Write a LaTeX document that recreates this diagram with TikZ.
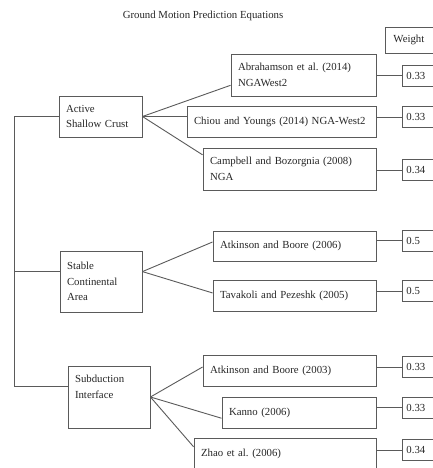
\documentclass[tikz,border=0pt]{standalone}
\usepackage{fontspec}
\setmainfont{Liberation Serif}
\usetikzlibrary{calc}
\definecolor{edge}{HTML}{5A5A5A}
\definecolor{ink}{HTML}{262626}
\frenchspacing

\begin{document}
\begin{tikzpicture}[x=1pt,y=-1pt,
    box/.style={
      draw=edge,
      line width=0.9pt,
      text=ink,
      align=left,
      inner xsep=7pt,
      inner ysep=0pt,
      font=\fontsize{10.8}{15.5}\selectfont
    },
    val/.style={box, anchor=west, inner xsep=4pt, minimum height=21pt, text width=40pt},
    link/.style={draw=edge, line width=0.9pt}]
  \useasboundingbox (0,0) rectangle (433,468);
  \node[text=ink, font=\fontsize{10.8}{13}\selectfont] (title) at (203,16) {Ground Motion Prediction Equations};
  \node[box, anchor=west, minimum height=26pt, inner xsep=8pt, text width=50pt] (weight) at (385,40) {Weight};
  % source types
  \node[box, minimum height=41pt, text width=69pt] (asc) at (100.5,116.5) {Active\\Shallow Crust};
  \node[box, minimum height=61pt, text width=68pt] (sca) at (101,281.5) {Stable\\Continental\\Area};
  \node[box, minimum height=62pt, text width=68pt] (si) at (109,397) {Subduction\\Interface\\\strut};
  % models
  \node[box, minimum height=42pt, text width=131pt] (ab14) at (303.5,75) {Abrahamson et al. (2014)\\NGAWest2};
  \node[box, minimum height=31pt, text width=175pt] (chiou) at (281.5,121.5) {Chiou and Youngs (2014) NGA-West2};
  \node[box, minimum height=42pt, text width=159pt] (camp) at (289.5,169) {Campbell and Bozorgnia (2008)\\NGA};
  \node[box, minimum height=30pt, text width=149pt] (ab06) at (294.5,246) {Atkinson and Boore (2006)};
  \node[box, minimum height=31pt, text width=149pt] (tav) at (294.5,295.5) {Tavakoli and Pezeshk (2005)};
  \node[box, minimum height=31pt, text width=159pt] (ab03) at (289.5,370.5) {Atkinson and Boore (2003)};
  \node[box, minimum height=31pt, text width=140pt] (kanno) at (299,412.5) {Kanno (2006)};
  \node[box, minimum height=32pt, text width=168pt] (zhao) at (285,454) {Zhao et al. (2006)};
  % weights
  \foreach \n/\y/\w in {v1/75.5/0.33, v2/117/0.33, v3/170/0.34, v4/240.5/0.5,
                         v5/291/0.5, v6/367/0.33, v7/407.5/0.33, v8/450/0.34}
    \node[val] (\n) at (402,\y) {\w};
  \foreach \m/\v in {ab14/v1, chiou/v2, camp/v3, ab06/v4, tav/v5, ab03/v6, kanno/v7, zhao/v8}
    \draw[link] (\v.west) -- (\v.west -| \m.east);

  \coordinate (trunk) at (14,0);
  \coordinate (scal) at ($(sca.north west)!.34!(sca.south west)$);
  \coordinate (scar) at ($(sca.north east)!.34!(sca.south east)$);
  \coordinate (sil) at ($(si.north west)!.34!(si.south west)$);
  \draw[link] (asc.west) -| (trunk |- sil) -- (sil);
  \draw[link] (scal) -- (scal -| trunk);

  \draw[link] (asc.east) -- ($(ab14.north west)!.74!(ab14.south west)$);
  \draw[link] (asc.east) -- (asc.east -| chiou.west);
  \draw[link] (asc.east) -- ($(camp.north west)!.17!(camp.south west)$);
  \draw[link] (scar) -- ($(ab06.north west)!.37!(ab06.south west)$);
  \draw[link] (scar) -- ($(tav.north west)!.42!(tav.south west)$);
  \draw[link] (si.east) -- ($(ab03.north west)!.39!(ab03.south west)$);
  \draw[link] (si.east) -- ($(kanno.north west)!.68!(kanno.south west)$);
  \draw[link] (si.east) -- ($(zhao.north west)!.28!(zhao.south west)$);
\end{tikzpicture}
\end{document}
